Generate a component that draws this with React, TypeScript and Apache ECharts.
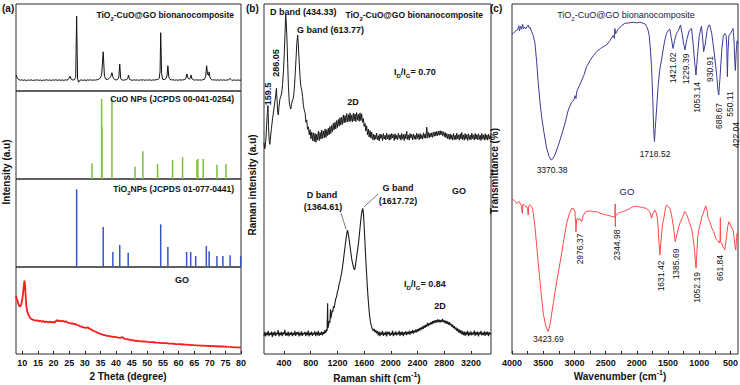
import React, { useEffect, useRef } from "react";
import * as echarts from "echarts";

// ---------- DATA ----------
const xrdTickValues = [10, 15, 20, 25, 30, 35, 40, 45, 50, 55, 60, 65, 70, 75, 80];
const ramanTickValues = [400, 800, 1200, 1600, 2000, 2400, 2800, 3200];
const ftirTickValues = [4000, 3500, 3000, 2500, 2000, 1500, 1000, 500];
const ftirTickMarks = [4000, 3750, 3500, 3250, 3000, 2750, 2500, 2250, 2000, 1750, 1500, 1250, 1000, 750, 500];

// (a) XRD of TiO2-CuO@GO: [2theta, intensity]
const xrdComposite: [number, number][] = [
  [8.0, 18.4], [8.4, 15.0], [8.8, 13.2], [9.3, 12.4], [9.8, 12.9], [10.3, 12.2], [10.8, 12.8], [11.3, 12.0], [11.8, 12.7], [12.3, 12.3],
  [12.8, 12.9], [13.3, 12.1], [13.8, 12.6], [14.3, 12.4], [14.8, 12.9], [15.3, 12.2], [15.8, 12.7], [16.3, 12.0], [16.8, 12.6], [17.3, 12.4],
  [17.8, 13.0], [18.3, 12.2], [18.8, 12.8], [19.3, 12.1], [19.8, 12.7], [20.3, 12.5], [20.8, 12.9], [21.3, 12.2], [21.8, 12.8], [22.3, 12.3],
  [22.8, 12.7], [23.3, 12.1], [23.8, 12.9], [24.3, 12.4], [24.8, 13.6], [25.3, 17.0], [25.7, 13.3], [26.2, 12.6], [26.7, 13.1], [27.1, 15.5],
  [27.4, 86.0], [27.7, 14.0], [28.0, 10.0], [28.4, 12.3], [28.9, 12.8], [29.4, 12.2], [29.9, 12.7], [30.4, 12.1], [30.9, 12.8], [31.4, 12.4],
  [31.9, 12.9], [32.4, 12.3], [32.9, 12.7], [33.4, 12.5], [33.9, 12.9], [34.4, 13.3], [34.9, 14.6], [35.4, 18.0], [35.9, 45.0], [36.3, 17.0],
  [36.8, 13.5], [37.3, 13.2], [37.8, 14.6], [38.3, 16.5], [38.7, 21.0], [39.1, 15.2], [39.6, 13.0], [40.1, 12.8], [40.6, 13.6], [40.9, 16.0],
  [41.2, 31.0], [41.5, 14.0], [41.9, 12.7], [42.4, 12.4], [42.9, 12.9], [43.4, 13.0], [43.8, 15.0], [44.0, 18.4], [44.3, 13.5], [44.8, 12.6],
  [45.3, 12.3], [45.8, 12.9], [46.3, 12.4], [46.8, 12.8], [47.3, 12.2], [47.8, 12.9], [48.3, 12.5], [48.8, 12.9], [49.3, 12.3], [49.8, 12.8],
  [50.3, 12.4], [50.8, 12.9], [51.3, 12.2], [51.8, 12.8], [52.3, 12.5], [52.8, 13.0], [53.3, 13.2], [53.8, 14.5], [54.1, 22.0], [54.3, 67.0],
  [54.6, 20.0], [54.9, 13.6], [55.4, 13.0], [55.9, 13.9], [56.3, 17.0], [56.6, 29.0], [56.9, 16.0], [57.3, 13.3], [57.8, 12.7], [58.3, 12.9],
  [58.8, 12.4], [59.3, 12.8], [59.8, 12.3], [60.3, 12.9], [60.8, 12.5], [61.3, 12.8], [61.8, 12.9], [62.3, 14.0], [62.7, 19.5], [63.1, 14.5],
  [63.5, 13.6], [63.8, 15.0], [64.0, 18.4], [64.3, 14.0], [64.8, 12.9], [65.3, 12.5], [65.8, 12.9], [66.3, 12.4], [66.8, 12.8], [67.3, 12.5],
  [67.8, 12.9], [68.3, 13.5], [68.7, 17.0], [69.0, 29.0], [69.3, 19.0], [69.6, 18.0], [69.8, 22.0], [70.1, 15.0], [70.5, 13.2], [71.0, 12.6],
  [71.5, 12.9], [72.0, 12.4], [72.5, 12.8], [73.0, 12.3], [73.5, 12.9], [74.0, 12.4], [74.5, 12.8], [75.0, 12.3], [75.5, 12.7], [76.0, 12.9],
  [76.5, 14.3], [77.0, 12.6], [77.5, 12.3], [78.0, 12.8], [78.5, 12.2], [79.0, 12.7], [79.5, 12.3], [80.0, 12.6],
];

// (a) CuO reference lines (JCPDS 00-041-0254): [2theta, relative intensity]
const cuoSticks: [number, number][] = [
  [32.3, 17.8], [35.4, 91], [35.5, 59], [38.7, 91], [46.1, 14], [48.6, 31.5], [53.3, 17], [58.1, 21.6],
  [61.3, 24.7], [65.9, 21.6], [66.2, 22.7], [67.9, 22.7], [72.3, 16.3], [75.2, 17],
];

// (a) TiO2 reference lines (JCPDS 01-077-0441)
const tio2Sticks: [number, number][] = [
  [27.4, 88.3], [35.9, 45.5], [39.0, 17], [41.2, 25], [43.9, 16.3], [54.3, 48.5], [56.6, 22.7], [62.6, 17],
  [63.9, 17], [65.5, 12.5], [68.9, 23.9], [69.8, 17.8], [72.3, 12.5], [74.2, 12.5], [76.5, 13.3], [79.9, 12.5],
];

// (a) XRD of GO
const xrdGO: [number, number][] = [
  [8.0, 66.7], [8.3, 63.0], [8.6, 59.5], [8.9, 56.0], [9.2, 54.4], [9.5, 55.5], [9.8, 58.5], [10.1, 65.0], [10.4, 75.0], [10.6, 82.0],
  [10.75, 84.3], [10.9, 78.0], [11.1, 66.0], [11.3, 55.0], [11.6, 49.0], [12.0, 45.0], [12.4, 42.0], [12.8, 40.5], [13.3, 39.6], [13.8, 38.9],
  [14.3, 38.3], [14.8, 38.8], [15.3, 37.5], [15.8, 38.2], [16.3, 37.0], [16.8, 37.8], [17.3, 36.6], [17.8, 37.4], [18.3, 36.3], [18.8, 37.2],
  [19.3, 36.2], [19.8, 36.9], [20.3, 36.0], [20.8, 38.0], [21.2, 39.0], [21.6, 37.6], [22.0, 38.4], [22.5, 37.4], [23.0, 38.2], [23.5, 37.0],
  [24.0, 37.6], [24.5, 36.2], [25.0, 35.8], [25.5, 35.0], [26.0, 35.4], [26.5, 34.2], [27.0, 34.5], [27.5, 33.2], [28.0, 33.0], [28.5, 31.8],
  [29.0, 31.5], [29.5, 30.6], [30.0, 30.3], [30.5, 30.0], [31.0, 30.6], [31.5, 29.0], [32.0, 28.5], [32.5, 27.2], [33.0, 26.4], [33.5, 25.5],
  [34.0, 24.6], [34.5, 23.9], [35.0, 23.0], [35.5, 22.6], [36.0, 21.8], [36.5, 21.6], [37.0, 20.9], [37.5, 20.8], [38.0, 20.2], [38.5, 20.3],
  [39.0, 19.6], [39.5, 19.8], [40.0, 19.3], [40.5, 19.0], [41.0, 18.6], [41.5, 18.7], [42.0, 19.6], [42.5, 17.9], [43.0, 17.5], [43.5, 17.2],
  [44.0, 16.6], [44.5, 16.4], [45.0, 15.8], [45.5, 15.9], [46.0, 15.2], [46.5, 15.3], [47.0, 14.8], [47.5, 14.9], [48.0, 14.5], [48.5, 14.6],
  [49.0, 14.2], [49.5, 14.4], [50.0, 14.0], [51.0, 13.6], [52.0, 13.5], [53.0, 13.0], [54.0, 12.9], [55.0, 12.4], [56.0, 12.5], [57.0, 12.0],
  [58.0, 11.9], [59.0, 11.5], [60.0, 11.3], [61.0, 11.2], [62.0, 10.8], [63.0, 10.7], [64.0, 10.3], [65.0, 10.1], [66.0, 10.0], [67.0, 9.7],
  [68.0, 9.6], [69.0, 9.3], [70.0, 9.2], [71.0, 9.0], [72.0, 8.9], [73.0, 8.6], [74.0, 8.6], [75.0, 8.4], [76.0, 8.1], [77.0, 8.0],
  [78.0, 7.7], [79.0, 7.6], [80.0, 7.3],
];

// (b) Raman of TiO2-CuO@GO: [shift cm-1, intensity]
const ramanComposite: [number, number][] = [
  [100, 60.3], [110, 58.6], [120, 59.4], [130, 62.0], [140, 65.5], [150, 69.0], [159.5, 71.0], [168, 65.0], [178, 60.8], [188, 59.9],
  [198, 62.0], [212, 64.5], [228, 67.2], [245, 69.5], [262, 72.0], [276, 74.0], [286, 75.9], [296, 72.5], [306, 69.0], [314, 68.3],
  [324, 70.5], [338, 72.8], [352, 73.6], [365, 74.6], [378, 77.0], [392, 81.0], [405, 86.5], [416, 92.0], [425, 96.9], [434, 94.5],
  [444, 90.0], [455, 83.0], [466, 76.5], [478, 72.0], [490, 70.7], [500, 70.0], [512, 71.2], [525, 72.5], [540, 73.1], [553, 75.5],
  [566, 79.5], [580, 84.5], [592, 89.0], [605, 91.1], [615, 88.0], [626, 84.0], [640, 79.0], [652, 76.5], [665, 75.4], [678, 73.6],
  [690, 71.0], [702, 69.8], [715, 68.9], [728, 66.2], [740, 66.9], [752, 64.2], [765, 64.9], [778, 62.6], [790, 64.1], [803, 61.5],
  [815, 63.4], [828, 60.9], [840, 63.2], [853, 60.7], [865, 63.0], [878, 60.5], [890, 62.8], [903, 61.1], [915, 63.7], [928, 61.0],
  [940, 63.3], [953, 61.4], [965, 64.0], [978, 61.6], [990, 63.7], [1003, 61.8], [1015, 64.3], [1028, 61.9], [1040, 64.1], [1052, 62.4],
  [1063, 64.5], [1075, 62.6], [1088, 65.0], [1100, 63.0], [1113, 65.3], [1125, 63.5], [1138, 65.9], [1150, 64.0], [1163, 66.2], [1175, 64.3],
  [1188, 66.7], [1200, 64.7], [1213, 67.0], [1225, 65.1], [1238, 67.5], [1250, 65.4], [1263, 67.6], [1275, 65.6], [1288, 68.3], [1300, 66.0],
  [1313, 68.1], [1325, 66.2], [1338, 68.7], [1350, 66.3], [1363, 68.4], [1375, 66.4], [1388, 68.9], [1400, 66.5], [1413, 68.3], [1425, 66.3],
  [1438, 68.8], [1450, 66.6], [1463, 68.6], [1475, 66.4], [1488, 69.0], [1500, 66.8], [1513, 68.5], [1525, 66.5], [1538, 68.9], [1550, 66.7],
  [1563, 68.6], [1575, 66.2], [1588, 67.3], [1600, 65.0], [1613, 65.9], [1625, 63.7], [1638, 65.2], [1650, 62.6], [1663, 64.3], [1675, 62.0],
  [1688, 63.8], [1700, 61.7], [1713, 63.4], [1725, 61.3], [1738, 62.8], [1750, 61.1], [1763, 62.6], [1775, 61.4], [1788, 63.1], [1800, 61.2],
  [1813, 62.4], [1825, 60.9], [1838, 62.9], [1850, 61.6], [1863, 62.7], [1875, 61.0], [1888, 63.0], [1900, 61.4], [1913, 62.5], [1925, 61.2],
  [1938, 63.1], [1950, 61.5], [1963, 62.6], [1975, 61.1], [1988, 62.8], [2000, 61.3], [2013, 63.0], [2025, 61.7], [2038, 62.7], [2050, 61.0],
  [2063, 62.9], [2075, 61.4], [2088, 62.5], [2100, 61.2], [2113, 63.1], [2125, 61.6], [2138, 62.6], [2150, 61.1], [2163, 63.0], [2175, 61.4],
  [2188, 62.7], [2200, 61.0], [2213, 62.8], [2225, 61.5], [2238, 63.6], [2250, 61.3], [2263, 62.6], [2275, 61.1], [2288, 63.0], [2300, 61.7],
  [2313, 62.7], [2325, 61.2], [2338, 62.9], [2350, 61.4], [2363, 62.5], [2375, 61.3], [2388, 63.1], [2400, 61.6], [2413, 62.8], [2425, 61.2],
  [2438, 63.0], [2450, 61.5], [2463, 62.6], [2475, 61.4], [2488, 63.2], [2500, 61.7], [2513, 62.9], [2525, 61.6], [2538, 64.8], [2550, 61.8],
  [2563, 63.3], [2575, 61.8], [2588, 63.1], [2600, 62.0], [2613, 63.2], [2625, 61.9], [2638, 63.4], [2650, 62.2], [2663, 63.5], [2675, 62.3],
  [2688, 63.6], [2700, 62.4], [2713, 63.7], [2725, 62.5], [2738, 63.8], [2750, 62.6], [2763, 63.7], [2775, 62.4], [2788, 63.5], [2800, 62.1],
  [2813, 63.3], [2825, 61.8], [2838, 63.0], [2850, 61.5], [2863, 62.8], [2875, 61.3], [2888, 62.9], [2900, 61.4], [2913, 62.6], [2925, 61.1],
  [2938, 63.0], [2950, 61.3], [2963, 62.5], [2975, 61.2], [2988, 63.1], [3000, 61.5], [3013, 62.6], [3025, 61.1], [3038, 62.9], [3050, 61.4],
  [3063, 63.3], [3075, 61.3], [3088, 62.6], [3100, 61.1], [3113, 63.0], [3125, 61.4], [3138, 62.7], [3150, 61.0], [3163, 62.9], [3175, 61.3],
  [3188, 62.5], [3200, 61.2], [3213, 63.1], [3225, 61.5], [3238, 62.6], [3250, 61.1], [3263, 63.0], [3275, 61.4], [3288, 62.7], [3300, 61.2],
  [3313, 62.9], [3325, 61.3], [3338, 62.5], [3350, 61.0], [3363, 63.0], [3375, 61.4], [3388, 62.6], [3400, 61.1], [3413, 62.9], [3425, 61.3],
  [3438, 62.6], [3450, 61.1], [3463, 62.8], [3475, 61.4], [3488, 62.5], [3500, 61.6],
];

// (b) Raman of GO
const ramanGO: [number, number][] = [
  [100, 5.2], [112, 6.3], [125, 5.0], [137, 6.1], [150, 5.4], [162, 6.6], [175, 5.1], [187, 6.0], [200, 5.5], [212, 6.4],
  [225, 4.9], [237, 6.2], [250, 5.3], [262, 6.5], [275, 5.2], [287, 6.0], [300, 5.6], [312, 6.8], [325, 5.0], [337, 6.1],
  [350, 5.4], [362, 6.3], [375, 5.1], [387, 6.2], [400, 5.6], [412, 6.9], [425, 5.2], [437, 6.0], [450, 5.3], [462, 6.4],
  [475, 5.0], [487, 6.1], [500, 5.5], [512, 6.3], [525, 5.1], [537, 6.0], [550, 5.4], [562, 6.6], [575, 5.2], [587, 6.2],
  [600, 5.6], [612, 6.4], [625, 5.0], [637, 6.1], [650, 5.3], [662, 6.5], [675, 5.2], [687, 6.0], [700, 5.7], [712, 6.3],
  [725, 5.1], [737, 6.2], [750, 5.4], [762, 6.7], [775, 5.0], [787, 6.1], [800, 5.5], [812, 6.4], [825, 5.2], [837, 6.0],
  [850, 5.6], [862, 6.5], [875, 5.1], [887, 6.2], [900, 5.4], [912, 6.6], [925, 5.2], [937, 6.1], [950, 5.5], [962, 6.4],
  [975, 5.3], [987, 6.3], [1000, 5.7], [1012, 6.8], [1025, 6.0], [1037, 7.2], [1045, 6.6], [1053, 14.5], [1058, 7.4], [1068, 8.3],
  [1078, 9.5], [1088, 9.0], [1095, 12.8], [1100, 10.2], [1110, 11.0], [1120, 12.4], [1130, 12.0], [1140, 13.6], [1150, 13.2], [1163, 14.5],
  [1175, 15.8], [1188, 16.4], [1200, 17.8], [1213, 18.6], [1225, 19.9], [1238, 20.8], [1250, 22.0], [1263, 23.1], [1275, 24.8], [1288, 26.6],
  [1300, 28.5], [1313, 30.5], [1325, 32.4], [1338, 34.2], [1350, 35.4], [1360, 34.6], [1370, 33.3], [1383, 31.6], [1395, 29.8], [1405, 28.4],
  [1415, 27.0], [1428, 25.8], [1440, 24.8], [1452, 24.1], [1462, 24.4], [1472, 25.6], [1483, 27.2], [1495, 28.8], [1508, 30.6], [1520, 32.5],
  [1533, 35.0], [1545, 37.4], [1558, 39.6], [1570, 41.0], [1580, 41.6], [1590, 40.0], [1600, 36.5], [1612, 32.0], [1625, 27.0], [1638, 22.5],
  [1650, 18.5], [1663, 15.0], [1675, 12.2], [1688, 10.0], [1700, 8.6], [1713, 7.8], [1725, 7.0], [1738, 6.6], [1750, 7.2], [1763, 6.2],
  [1775, 6.8], [1788, 5.9], [1800, 6.5], [1812, 5.3], [1825, 6.4], [1837, 5.1], [1850, 6.2], [1862, 5.5], [1875, 6.6], [1887, 5.2],
  [1900, 6.1], [1912, 5.4], [1925, 6.5], [1937, 5.0], [1950, 6.3], [1962, 5.6], [1975, 6.4], [1987, 5.2], [2000, 6.0], [2012, 5.5],
  [2025, 6.7], [2037, 5.1], [2050, 6.2], [2062, 5.4], [2075, 6.5], [2087, 5.3], [2100, 6.1], [2112, 5.6], [2125, 6.6], [2137, 5.2],
  [2150, 6.3], [2162, 5.5], [2175, 6.4], [2187, 5.1], [2200, 6.2], [2212, 5.6], [2225, 6.5], [2237, 5.4], [2250, 6.3], [2262, 5.7],
  [2275, 6.6], [2287, 5.5], [2300, 6.5], [2312, 5.9], [2325, 6.8], [2337, 5.8], [2350, 6.7], [2362, 6.1], [2375, 7.0], [2387, 6.2],
  [2400, 7.1], [2412, 6.5], [2425, 7.4], [2437, 6.7], [2450, 7.6], [2462, 7.0], [2475, 7.9], [2487, 7.2], [2500, 8.2], [2512, 7.5],
  [2525, 8.4], [2537, 7.8], [2550, 8.9], [2562, 8.0], [2575, 8.8], [2587, 8.3], [2600, 9.1], [2612, 8.5], [2625, 9.4], [2637, 8.7],
  [2650, 9.6], [2662, 8.9], [2675, 9.7], [2687, 9.0], [2700, 9.9], [2712, 9.1], [2725, 9.8], [2737, 9.0], [2750, 9.7], [2762, 9.2],
  [2775, 10.0], [2787, 9.1], [2800, 9.6], [2812, 8.8], [2825, 9.5], [2837, 8.6], [2850, 9.3], [2862, 8.4], [2875, 9.1], [2887, 8.2],
  [2900, 8.7], [2912, 7.8], [2925, 8.4], [2937, 7.4], [2950, 8.0], [2962, 7.0], [2975, 7.6], [2987, 6.6], [3000, 7.3], [3012, 6.2],
  [3025, 7.0], [3037, 5.9], [3050, 6.8], [3062, 5.6], [3075, 6.5], [3087, 5.4], [3100, 6.4], [3112, 5.2], [3125, 6.3], [3137, 5.5],
  [3150, 6.6], [3162, 5.1], [3175, 6.2], [3187, 5.4], [3200, 6.5], [3212, 5.3], [3225, 6.1], [3237, 5.6], [3250, 6.7], [3262, 5.2],
  [3275, 6.3], [3287, 5.5], [3300, 6.4], [3312, 5.0], [3325, 6.2], [3337, 5.6], [3350, 6.6], [3362, 5.3], [3375, 6.1], [3387, 5.4],
  [3400, 6.5], [3412, 5.2], [3425, 6.3], [3437, 5.5], [3450, 6.4], [3462, 5.1], [3475, 6.2], [3487, 5.6], [3500, 6.0],
];

// (c) FTIR of TiO2-CuO@GO: [wavenumber, transmittance]
const ftirComposite: [number, number][] = [
  [4000, 91.4], [3970, 91.8], [3940, 92.3], [3910, 92.6], [3890, 93.8], [3880, 92.4], [3860, 93.6], [3845, 92.8], [3830, 94.2], [3815, 93.0],
  [3800, 93.4], [3780, 92.9], [3760, 93.5], [3740, 94.0], [3725, 93.1], [3710, 93.3], [3685, 92.1], [3660, 91.0], [3632, 88.8], [3605, 83.5],
  [3579, 77.3], [3552, 72.0], [3525, 67.8], [3490, 63.5], [3445, 58.8], [3405, 56.4], [3370, 55.4], [3340, 56.0], [3312, 56.9], [3260, 59.5],
  [3205, 62.6], [3150, 66.0], [3099, 69.7], [3050, 71.8], [3010, 72.6], [2990, 73.8], [2975, 73.0], [2965, 74.9], [2900, 77.5], [2850, 79.6],
  [2805, 82.1], [2750, 83.8], [2700, 85.2], [2645, 86.4], [2580, 87.3], [2520, 88.0], [2485, 88.3], [2430, 89.6], [2380, 91.0], [2360, 90.2],
  [2352, 93.0], [2340, 91.5], [2300, 92.8], [2250, 93.7], [2192, 94.5], [2120, 94.6], [2059, 94.8], [2000, 94.6], [1950, 94.8], [1900, 94.5],
  [1860, 94.2], [1845, 93.6], [1820, 92.5], [1803, 91.0], [1785, 87.5], [1765, 82.1], [1745, 73.0], [1730, 64.0], [1718, 60.7], [1705, 64.5],
  [1685, 69.7], [1660, 76.5], [1635, 81.0], [1605, 84.0], [1570, 88.0], [1540, 90.6], [1525, 91.6], [1500, 92.4], [1472, 92.8], [1450, 90.5],
  [1421, 87.3], [1395, 89.6], [1365, 91.6], [1335, 92.4], [1310, 93.6], [1301, 94.0], [1275, 91.5], [1250, 88.5], [1229, 86.9], [1200, 89.8],
  [1160, 92.5], [1125, 93.0], [1100, 89.0], [1075, 83.5], [1053, 79.7], [1030, 85.0], [1000, 91.0], [965, 93.7], [945, 90.0], [930, 86.4],
  [905, 88.5], [875, 92.5], [850, 93.9], [832, 94.0], [800, 91.5], [760, 86.0], [720, 79.5], [700, 75.0], [688, 74.0], [670, 78.5],
  [640, 87.0], [615, 90.8], [592, 91.6], [570, 91.0], [560, 88.0], [550, 79.2], [540, 86.5], [525, 91.0], [500, 91.6], [475, 92.4],
  [460, 93.0], [445, 90.0], [430, 83.0], [422, 81.0], [410, 86.0], [395, 89.5], [380, 88.5],
];

// (c) FTIR of GO
const ftirGO: [number, number][] = [
  [4000, 44.3], [3960, 43.8], [3920, 43.0], [3890, 43.6], [3872, 43.1], [3850, 42.4], [3835, 40.2], [3825, 42.8], [3800, 42.5], [3780, 42.0],
  [3765, 42.1], [3750, 41.5], [3740, 39.7], [3730, 42.4], [3710, 42.6], [3685, 42.1], [3670, 41.4], [3659, 40.2], [3630, 36.0], [3605, 31.0],
  [3579, 25.9], [3540, 18.5], [3499, 11.6], [3460, 8.0], [3423, 6.4], [3390, 8.5], [3339, 14.5], [3290, 20.0], [3232, 25.9], [3180, 31.5],
  [3125, 37.3], [3080, 40.2], [3045, 41.6], [3010, 41.5], [2992, 40.7], [2980, 37.5], [2976, 34.9], [2965, 38.5], [2950, 38.8], [2939, 38.3],
  [2910, 38.6], [2885, 37.8], [2860, 39.5], [2830, 40.5], [2805, 40.7], [2750, 40.9], [2700, 40.6], [2645, 40.7], [2590, 40.2], [2530, 39.9],
  [2485, 39.7], [2420, 39.4], [2370, 39.2], [2352, 39.0], [2348, 42.9], [2345, 36.4], [2340, 39.5], [2300, 40.2], [2260, 40.5], [2219, 40.7],
  [2150, 41.2], [2100, 41.7], [2059, 42.1], [2000, 42.2], [1950, 42.0], [1900, 41.8], [1845, 41.6], [1800, 40.8], [1780, 40.0], [1765, 38.8],
  [1740, 40.2], [1712, 41.1], [1695, 40.6], [1675, 39.2], [1660, 36.5], [1645, 31.5], [1631, 28.3], [1615, 32.0], [1590, 37.0], [1563, 39.2],
  [1540, 41.8], [1525, 42.6], [1500, 42.1], [1472, 41.6], [1445, 39.8], [1415, 36.5], [1385, 32.1], [1360, 34.0], [1335, 36.0], [1312, 37.3],
  [1270, 39.0], [1232, 40.7], [1200, 39.8], [1175, 38.5], [1152, 37.3], [1120, 35.5], [1099, 33.0], [1075, 29.5], [1060, 26.0], [1052, 24.5],
  [1040, 28.5], [1025, 33.5], [1003, 35.9], [985, 37.0], [965, 38.8], [930, 40.6], [896, 42.3], [875, 41.0], [860, 38.8], [832, 37.8],
  [800, 36.0], [770, 35.0], [736, 33.0], [710, 32.5], [680, 31.7], [668, 32.5], [663, 38.9], [658, 32.0], [640, 31.5], [620, 30.5],
  [600, 30.2], [592, 29.7], [570, 32.5], [545, 36.5], [523, 37.8], [505, 37.0], [480, 36.0], [459, 35.4], [440, 33.0], [425, 30.5],
  [416, 29.7], [405, 32.5], [395, 34.5], [380, 33.5],
];

// ---------- CHART ----------
const FONT = '"Liberation Sans", Arial, Helvetica, sans-serif';

function label(text: string, x: number, y: number, o: any = {}) {
  const size = o.size ?? 9;
  const weight = o.weight ?? "bold";
  const color = o.color ?? "#111";
  const small = Math.max(5, Math.round(size * 0.68));
  return {
    type: "text",
    x,
    y,
    rotation: o.rot ?? 0,
    silent: true,
    z: 100,
    style: {
      text,
      x: 0,
      y: 0,
      align: o.align ?? "center",
      verticalAlign: "middle",
      font: `${weight} ${size}px ${FONT}`,
      fill: color,
      lineHeight: size + 5,
      rich: {
        sub: { font: `${weight} ${small}px ${FONT}`, fill: color, verticalAlign: "bottom" },
        sup: { font: `${weight} ${small}px ${FONT}`, fill: color, verticalAlign: "top" },
      },
    },
  };
}

const ROT = Math.PI / 2;

export default function App() {
  const ref = useRef<HTMLDivElement>(null);

  useEffect(() => {
    if (!ref.current) return;
    const chart = echarts.init(ref.current, undefined, { renderer: "svg" });

    const gridBase = {
      show: true,
      borderColor: "#2a2a2a",
      borderWidth: 1,
      backgroundColor: "transparent",
      containLabel: false,
      outerBoundsMode: "none",
    };
    const grids = [
      { ...gridBase, left: 16, top: 4, width: 225, height: 87 },
      { ...gridBase, left: 16, top: 91, width: 225, height: 88 },
      { ...gridBase, left: 16, top: 179, width: 225, height: 88 },
      { ...gridBase, left: 16, top: 267, width: 225, height: 87 },
      { ...gridBase, left: 264, top: 4, width: 227, height: 350 },
      { ...gridBase, left: 512, top: 4, width: 226, height: 350 },
    ];

    const tickLabel = {
      fontSize: 9,
      fontWeight: "bold",
      fontFamily: FONT,
      color: "#111",
      margin: 4,
      showMinLabel: true,
      showMaxLabel: true,
      formatter: (v: number) => String(v),
    };
    const hiddenX = (gi: number) => ({
      gridIndex: gi,
      type: "value",
      min: 8,
      max: 80,
      show: false,
    });
    const xAxes: any[] = [
      hiddenX(0),
      hiddenX(1),
      hiddenX(2),
      {
        gridIndex: 3,
        type: "value",
        min: 8,
        max: 80,
        axisLine: { show: false },
        splitLine: { show: false },
        axisTick: { show: true, inside: true, length: 3, customValues: xrdTickValues, lineStyle: { color: "#222" } },
        axisLabel: { ...tickLabel, customValues: xrdTickValues },
      },
      {
        gridIndex: 4,
        type: "value",
        min: 100,
        max: 3500,
        axisLine: { show: false },
        splitLine: { show: false },
        axisTick: { show: true, inside: true, length: 3, customValues: ramanTickValues, lineStyle: { color: "#222" } },
        axisLabel: { ...tickLabel, customValues: ramanTickValues },
      },
      {
        gridIndex: 5,
        type: "value",
        min: 380,
        max: 4000,
        inverse: true,
        axisLine: { show: false },
        splitLine: { show: false },
        axisTick: { show: true, inside: true, length: 3, customValues: ftirTickMarks, lineStyle: { color: "#222" } },
        axisLabel: { ...tickLabel, customValues: ftirTickValues },
      },
    ];
    const yAxes: any[] = [0, 1, 2, 3, 4, 5].map((gi) => ({
      gridIndex: gi,
      type: "value",
      min: 0,
      max: 100,
      show: false,
    }));

    const lineSeries = (data: [number, number][], idx: number, color: string, width: number) => ({
      type: "line",
      xAxisIndex: idx,
      yAxisIndex: idx,
      data,
      symbol: "none",
      showSymbol: false,
      smooth: false,
      lineStyle: { color, width },
      silent: true,
      z: 5,
    });

    const series: any[] = [
      lineSeries(xrdComposite, 0, "#111111", 1),
      {
        type: "bar",
        xAxisIndex: 1,
        yAxisIndex: 1,
        data: cuoSticks,
        barWidth: 1.5,
        itemStyle: { color: "#7fbf3f" },
        silent: true,
      },
      {
        type: "bar",
        xAxisIndex: 2,
        yAxisIndex: 2,
        data: tio2Sticks,
        barWidth: 1.5,
        itemStyle: { color: "#3456c8" },
        silent: true,
      },
      lineSeries(xrdGO, 3, "#ff1c1c", 1.8),
      lineSeries(ramanComposite, 4, "#1a1a1a", 1),
      lineSeries(ramanGO, 4, "#1a1a1a", 1.1),
      lineSeries(ftirComposite, 5, "#3b3b9c", 1),
      lineSeries(ftirGO, 5, "#ff4848", 1),
    ];

    const graphics: any[] = [
      // panel (a)
      label("(a)", 2, 8, { align: "left", size: 10 }),
      label("TiO{sub|2}-CuO@GO bionanocomposite", 234, 15, { align: "right", size: 8.5 }),
      label("CuO NPs (JCPDS 00-041-0254)", 234, 99, { align: "right", size: 8.5 }),
      label("TiO{sub|2}NPs (JCPDS 01-077-0441)", 234, 189, { align: "right", size: 8.5 }),
      label("GO", 182, 280),
      label("2 Theta (degree)", 128, 376, { size: 10 }),
      label("Intensity (a.u)", 6, 172, { size: 10, rot: ROT }),
      // panel (b)
      label("(b)", 246, 8, { align: "left", size: 10 }),
      label("D band (434.33)", 270, 12, { align: "left" }),
      label("G band (613.77)", 297, 30, { align: "left" }),
      label("286.05", 275.7, 63, { rot: ROT }),
      label("159.5", 267.5, 94, { rot: ROT }),
      label("TiO{sub|2}-CuO@GO bionanocomposite", 483, 15, { align: "right", size: 8.5 }),
      label("I{sub|D}/I{sub|G}= 0.70", 394, 72, { align: "left" }),
      label("2D", 353, 102),
      label("D band", 322, 195),
      label("(1364.61)", 323, 207),
      label("G band", 398, 188),
      label("(1617.72)", 398, 201),
      label("GO", 459, 191),
      label("I{sub|D}/I{sub|G}= 0.84", 404, 284, { align: "left" }),
      label("2D", 440, 306),
      label("Raman shift (cm{sup|-1})", 377, 378, { size: 10 }),
      label("Raman intensity (a.u)", 252, 185, { size: 10, rot: ROT }),
      {
        type: "line",
        silent: true,
        z: 90,
        shape: { x1: 341, y1: 213, x2: 346, y2: 229 },
        style: { stroke: "#555", lineWidth: 0.8 },
      },
      {
        type: "line",
        silent: true,
        z: 90,
        shape: { x1: 378, y1: 194, x2: 364, y2: 207 },
        style: { stroke: "#555", lineWidth: 0.8 },
      },
      // panel (c)
      label("(c)", 490, 8, { align: "left", size: 10 }),
      label("TiO{sub|2}-CuO@GO bionanocomposite", 626, 15, { weight: "normal", size: 9, color: "#1a1a40" }),
      label("3370.38", 552, 170, { weight: "normal", size: 8.5 }),
      label("1718.52", 655, 154, { weight: "normal", size: 8.5 }),
      label("1421.02", 673.3, 68, { weight: "normal", size: 8.5, rot: ROT }),
      label("1229.39", 685.7, 69, { weight: "normal", size: 8.5, rot: ROT }),
      label("1053.14", 696.7, 97.5, { weight: "normal", size: 8.5, rot: ROT }),
      label("930.91", 710, 69, { weight: "normal", size: 8.5, rot: ROT }),
      label("688.67", 719.3, 116, { weight: "normal", size: 8.5, rot: ROT }),
      label("550.11", 730, 104, { weight: "normal", size: 8.5, rot: ROT }),
      label("422.04", 735.7, 135, { weight: "normal", size: 8.5, rot: ROT }),
      label("GO", 627, 191, { weight: "normal", size: 9.5, color: "#1a1a5a" }),
      label("3423.69", 548.3, 338.5, { weight: "normal", size: 8.5 }),
      label("2976.37", 580, 249, { weight: "normal", size: 8.5, rot: ROT }),
      label("2344.98", 616.7, 245, { weight: "normal", size: 8.5, rot: ROT }),
      label("1631.42", 660.7, 276, { weight: "normal", size: 8.5, rot: ROT }),
      label("1385.69", 676, 264, { weight: "normal", size: 8.5, rot: ROT }),
      label("1052.19", 696.7, 287.5, { weight: "normal", size: 8.5, rot: ROT }),
      label("661.84", 720, 268, { weight: "normal", size: 8.5, rot: ROT }),
      label("Wavenumber (cm{sup|-1})", 620, 376, { size: 10 }),
      label("Transmittance (%)", 494, 171, { size: 10, rot: ROT }),
    ];

    chart.setOption({
      animation: false,
      backgroundColor: "#ffffff",
      grid: grids,
      xAxis: xAxes,
      yAxis: yAxes,
      series,
      graphic: graphics,
    });

    return () => {
      chart.dispose();
    };
  }, []);

  return (
    <div
      ref={ref}
      style={{ position: "fixed", left: 0, top: 0, width: 740, height: 385, background: "#fff" }}
    />
  );
}
